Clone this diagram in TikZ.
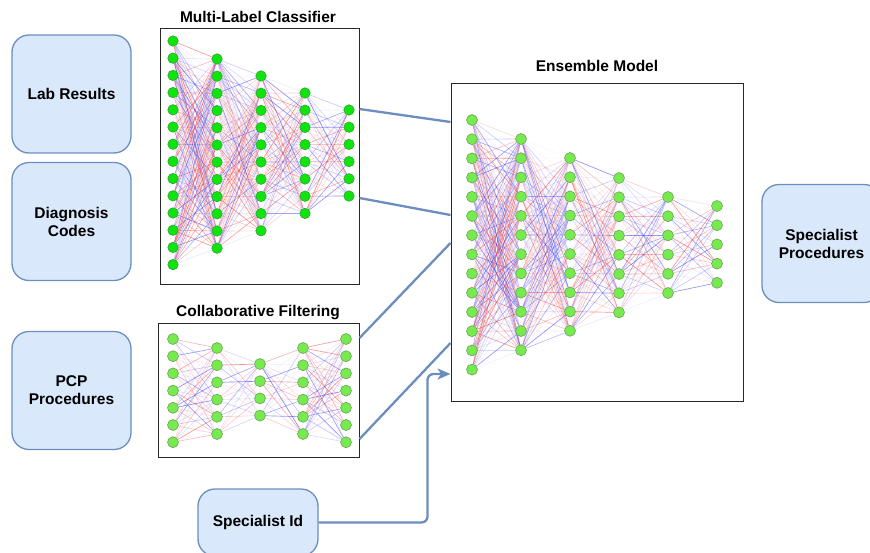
\documentclass[tikz,border=0pt]{standalone}
\usepackage{fontspec}
\setmainfont{Liberation Sans}
\usetikzlibrary{arrows.meta}
\definecolor{boxfill}{HTML}{DAE8FC}
\definecolor{boxline}{HTML}{6C8EBF}
\definecolor{gA}{RGB}{15,228,15}
\definecolor{gAl}{RGB}{45,150,45}
\definecolor{gB}{RGB}{118,234,78}
\definecolor{gBl}{RGB}{100,150,80}
\definecolor{wred}{RGB}{240,70,70}
\definecolor{wblue}{RGB}{70,70,240}
\definecolor{netframe}{RGB}{40,40,40}
\pgfdeclarelayer{edges}
\pgfsetlayers{edges,main}
\newcommand{\wire}[4]{%
  \pgfmathtruncatemacro\nextL{#2+1}%
  \foreach \a in {1,...,#3}{%
    \foreach \b in {1,...,#4}{%
      \pgfmathsetmacro\op{0.04+0.6*(rnd)^1.5}%
      \pgfmathtruncatemacro\pick{rnd<0.5 ? 1 : 0}%
      \ifnum\pick=1 \def\ec{wred}\else\def\ec{wblue}\fi
      \draw[\ec, draw opacity=\op, line width=0.65pt] (#1#2-\a) -- (#1\nextL-\b);
    }}}
\tikzset{
  inbox/.style={draw=boxline, fill=boxfill, line width=1.3pt, rounded corners=17pt,
    minimum width=119pt, minimum height=118pt, align=center,
    font=\bfseries\fontsize{15.5}{18}\selectfont},
  netbox/.style={draw=netframe, line width=1pt},
  nettitle/.style={font=\bfseries\fontsize{15.5}{18}\selectfont},
  nA/.style={circle, fill=gA, draw=gAl, line width=0.5pt, inner sep=0pt, minimum size=10.5pt},
  nB/.style={circle, fill=gB, draw=gBl, line width=0.5pt, inner sep=0pt, minimum size=11pt},
  link/.style={draw=boxline, line width=2.3pt},
}
\begin{document}
\begin{tikzpicture}[x=1pt, y=-1pt]
\useasboundingbox (0,0) rectangle (870,552);
\pgfmathsetseed{7}
% input boxes
\node[inbox] (lab) at (71.5,94) {Lab Results};
\node[inbox] (diag) at (71.5,221.5) {Diagnosis\\Codes};
\node[inbox] (pcp) at (71.5,390.5) {PCP\\Procedures};
\node[inbox, minimum width=120pt, minimum height=67pt] (sid) at (258,522.5) {Specialist Id};
\node[inbox] (sp) at (821.5,243.5) {Specialist\\Procedures};
% network frames
\node[netbox, minimum width=199pt, minimum height=256pt] (mlbox) at (259.5,156) {};
\node[netbox, minimum width=201pt, minimum height=134pt] (cfbox) at (258.5,390) {};
\node[netbox, minimum width=292pt, minimum height=318pt] (ens) at (597,242) {};
\node[nettitle] (mlt) at (258,17) {Multi-Label Classifier};
\node[nettitle] (cft) at (258,313) {Collaborative Filtering};
\node[nettitle] (enst) at (597,66) {Ensemble Model};
% multi-label classifier nodes
\foreach \L/\n/\x/\y in {1/14/173/41, 2/12/217/59, 3/10/261/76, 4/8/305/93, 5/6/349/110}
  \foreach \i in {1,...,\n}
    \node[nA] (m\L-\i) at (\x,{\y+(\i-1)*17.2}) {};
% collaborative filtering nodes
\foreach \L/\n/\x/\y in {1/7/173/339, 2/6/217/348, 3/4/260/364, 4/6/303/348, 5/7/346/339}
  \foreach \i in {1,...,\n}
    \node[nB] (c\L-\i) at (\x,{\y+(\i-1)*17.2}) {};
% ensemble nodes
\foreach \L/\n/\x/\y in {1/14/472/120, 2/12/521/139, 3/10/570/158, 4/8/619/178, 5/6/668/197, 6/5/717/206}
  \foreach \i in {1,...,\n}
    \node[nB] (e\L-\i) at (\x,{\y+(\i-1)*19.2}) {};
% weights
\begin{pgfonlayer}{edges}
\wire{m}{1}{14}{12}
\wire{m}{2}{12}{10}
\wire{m}{3}{10}{8}
\wire{m}{4}{8}{6}
\wire{c}{1}{7}{6}
\wire{c}{2}{6}{4}
\wire{c}{3}{4}{6}
\wire{c}{4}{6}{7}
\wire{e}{1}{14}{12}
\wire{e}{2}{12}{10}
\wire{e}{3}{10}{8}
\wire{e}{4}{8}{6}
\wire{e}{5}{6}{5}
\end{pgfonlayer}
% connectors
\draw[link] ([yshift=47pt]mlbox.east) -- ([yshift=120pt]ens.west);
\draw[link] ([yshift=-42pt]mlbox.east) -- ([yshift=27pt]ens.west);
\draw[link] ([yshift=52pt]cfbox.east) -- ([yshift=-1pt]ens.west);
\draw[link] ([yshift=-49pt]cfbox.east) -- ([yshift=-101pt]ens.west);
\draw[link, rounded corners=6pt, -{Stealth[length=13pt, width=11pt, inset=3.5pt]}]
  (sid.east) -| ([xshift=-23pt, yshift=-132pt]ens.west) -- ([yshift=-132pt]ens.west);
\end{tikzpicture}
\end{document}
